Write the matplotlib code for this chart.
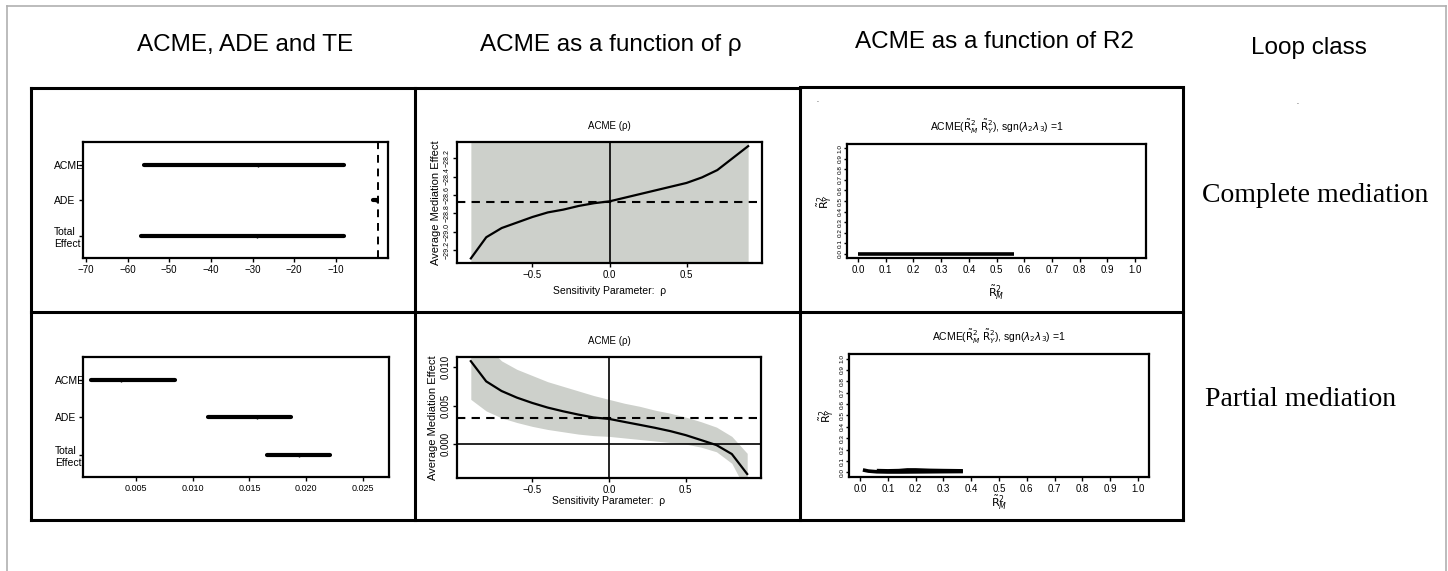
"""Mediation analysis summary figure: ACME/ADE/TE, sensitivity to rho and to R2."""

import matplotlib
matplotlib.use("Agg")
import matplotlib.pyplot as plt
from matplotlib.lines import Line2D

plt.rcParams["font.family"] = ["Liberation Sans", "DejaVu Sans"]
plt.rcParams["mathtext.fontset"] = "dejavusans"

# ---- data -----------------------------------------------------------------
effects = ["ACME", "ADE", "Total\nEffect"]
effect_pos = [3, 2, 1]

complete_est = [-28.7, -0.5, -29.0]
complete_lo = [-56.1, -1.1, -56.8]
complete_hi = [-8.1, -0.2, -8.1]

partial_est = [0.0037, 0.0157, 0.0194]
partial_lo = [0.0010, 0.0113, 0.0165]
partial_hi = [0.0084, 0.0187, 0.0221]

rho = [-0.9, -0.8, -0.7, -0.6, -0.5, -0.4, -0.3, -0.2, -0.1, 0.0,
       0.1, 0.2, 0.3, 0.4, 0.5, 0.6, 0.7, 0.8, 0.9]

complete_acme = [-29.29, -29.06, -28.96, -28.90, -28.84, -28.79, -28.76, -28.72, -28.69, -28.67,
                 -28.63, -28.59, -28.55, -28.51, -28.47, -28.41, -28.33, -28.20, -28.07]
complete_ci_lo = [-30.6, -30.4, -30.3, -30.2, -30.2, -30.1, -30.1, -30.1, -30.0, -30.0,
                  -30.0, -29.9, -29.9, -29.9, -29.8, -29.8, -29.7, -29.6, -29.4]
complete_ci_hi = [-27.9, -27.7, -27.6, -27.6, -27.5, -27.5, -27.4, -27.4, -27.4, -27.3,
                  -27.3, -27.3, -27.2, -27.2, -27.1, -27.1, -27.0, -26.8, -26.7]
complete_acme_est = -28.68

partial_acme = [0.01076, 0.00814, 0.00689, 0.00603, 0.00534, 0.00474, 0.00426, 0.00383, 0.00345, 0.00327,
                0.00288, 0.00250, 0.00211, 0.00168, 0.00116, 0.00052, -0.00013, -0.00129, -0.00388]
partial_ci_lo = [0.0058, 0.0043, 0.0034, 0.0028, 0.0023, 0.0019, 0.0016, 0.0013, 0.0011, 0.0010,
                 0.0008, 0.0006, 0.0004, 0.0002, 0.0000, -0.0004, -0.0010, -0.0025, -0.0063]
partial_ci_hi = [0.0165, 0.0128, 0.0108, 0.0097, 0.0089, 0.0081, 0.0075, 0.0069, 0.0063, 0.0058,
                 0.0053, 0.0049, 0.0044, 0.0040, 0.0035, 0.0029, 0.0022, 0.0010, -0.0012]
partial_acme_est = 0.0034

# contour of ACME = 0 over (R2_M, R2_Y)
complete_r2m = [0.0, 0.2, 0.4, 0.565]
complete_r2y = [0.0, 0.0, 0.0, 0.0]
partial_r2m_a = [0.01, 0.03, 0.06, 0.10, 0.15, 0.20, 0.25, 0.30, 0.37]
partial_r2y_a = [0.022, 0.012, 0.006, 0.004, 0.004, 0.005, 0.006, 0.007, 0.008]
partial_r2m_b = [0.06, 0.10, 0.14, 0.17, 0.20, 0.25, 0.30, 0.37]
partial_r2y_b = [0.016, 0.014, 0.016, 0.022, 0.022, 0.018, 0.016, 0.014]

col_titles = ["ACME, ADE and TE", "ACME as a function of ρ", "ACME as a function of R2", "Loop class"]
row_classes = ["Complete mediation", "Partial mediation"]

W, H = 1448, 571
fig = plt.figure(figsize=(W / 100, H / 100), dpi=100)


def px_axes(left, top, right, bottom):
    return fig.add_axes([left / W, 1 - bottom / H, (right - left) / W, (bottom - top) / H])


def r_style(ax, lw=1.6):
    for s in ax.spines.values():
        s.set_linewidth(lw)
    ax.tick_params(direction="out", length=3, width=1, labelsize=7, pad=2)


def effects_panel(ax, est, lo, hi, xlim, ylim, xticks, xticklabels, zero_line):
    r_style(ax)
    for p, e, a, b in zip(effect_pos, est, lo, hi):
        ax.plot([a, b], [p, p], color="black", lw=3, solid_capstyle="round")
        ax.plot([e], [p], marker="|", color="black", ms=3, mew=1)
    if zero_line:
        ax.axvline(0, color="black", ls=(0, (4, 3)), lw=1.4)
    ax.set_xlim(*xlim)
    ax.set_ylim(*ylim)
    ax.set_xticks(xticks)
    ax.set_xticklabels(xticklabels)
    ax.set_yticks(effect_pos)
    ax.set_yticklabels(effects, fontsize=7.5, linespacing=1.3)
    for lbl in ax.get_yticklabels():
        lbl.set_horizontalalignment("left")


def rho_panel(ax, acme, lo, hi, est, ylim, yticks, yticklabels, ylab_size, zero_h):
    r_style(ax)
    ax.fill_between(rho, lo, hi, color="#cdd0cb", lw=0)
    ax.plot(rho, acme, color="black", lw=1.6)
    ax.axhline(est, color="black", ls=(0, (4, 3)), lw=1.5)
    ax.axvline(0, color="black", lw=1.2)
    if zero_h:
        ax.axhline(0, color="black", lw=1.2)
    ax.set_xlim(-0.99, 0.99)
    ax.set_ylim(*ylim)
    ax.set_xticks([-0.5, 0.0, 0.5])
    ax.set_xticklabels(["−0.5", "0.0", "0.5"])
    ax.set_yticks(yticks)
    ax.set_yticklabels(yticklabels, rotation=90, va="center")
    ax.tick_params(axis="y", labelsize=ylab_size, pad=1.5)
    ax.set_title("ACME (ρ)", fontsize=7, pad=9)
    ax.set_xlabel("Sensitivity Parameter:  ρ", fontsize=7.5, labelpad=4)
    ax.set_ylabel("Average Mediation Effect", fontsize=8, labelpad=2)


def r2_panel(ax, lines, ytick_size):
    r_style(ax)
    for xs, ys in lines:
        ax.plot(xs, ys, color="black", lw=2.6, solid_capstyle="butt")
    ax.set_xlim(-0.04, 1.04)
    ax.set_ylim(-0.04, 1.04)
    ticks = [i / 10 for i in range(11)]
    ax.set_xticks(ticks)
    ax.set_xticklabels([f"{t:.1f}" for t in ticks])
    ax.set_yticks(ticks)
    ax.set_yticklabels([f"{t:.1f}" for t in ticks], rotation=90, va="center")
    ax.tick_params(axis="y", labelsize=ytick_size, length=2, pad=1)
    ax.set_title(r"ACME($\tilde{\mathrm{R}}^2_M$ $\tilde{\mathrm{R}}^2_Y$), sgn($\lambda_2\lambda_3$) =1",
                 fontsize=7.5, pad=9)
    ax.set_ylabel(r"$\tilde{\mathrm{R}}^2_Y$", fontsize=8, labelpad=3)


# top row: complete mediation
ax = px_axes(83, 142, 388, 258)
effects_panel(ax, complete_est, complete_lo, complete_hi, (-70.7, 2.5), (0.37, 3.65),
              [-70, -60, -50, -40, -30, -20, -10],
              ["−70", "−60", "−50", "−40", "−30", "−20", "−10"], True)
ax.tick_params(axis="y", pad=18)

ax = px_axes(457, 142, 762, 263)
rho_panel(ax, complete_acme, complete_ci_lo, complete_ci_hi, complete_acme_est, (-29.34, -28.025),
          [-29.2, -29.0, -28.8, -28.6, -28.4, -28.2],
          ["−29.2", "−29.0", "−28.8", "−28.6", "−28.4", "−28.2"], 5.0, False)

ax = px_axes(847, 144, 1146, 258)
r2_panel(ax, [(complete_r2m, complete_r2y)], 4.6)
ax.set_xlabel(r"$\tilde{\mathrm{R}}^2_M$", fontsize=8, labelpad=6)

# bottom row: partial mediation
ax = px_axes(83, 357, 389, 477)
effects_panel(ax, partial_est, partial_lo, partial_hi, (0.00032, 0.0273), (0.41, 3.61),
              [0.005, 0.010, 0.015, 0.020, 0.025],
              ["0.005", "0.010", "0.015", "0.020", "0.025"], False)
ax.tick_params(axis="y", pad=17)
ax.tick_params(axis="x", labelsize=6.5)

ax = px_axes(457, 357, 761, 478)
rho_panel(ax, partial_acme, partial_ci_lo, partial_ci_hi, partial_acme_est, (-0.0044, 0.0113),
          [0.0, 0.005, 0.010], ["0.000", "0.005", "0.010"], 7, True)
ax.xaxis.labelpad = 1

ax = px_axes(849, 354, 1149, 477)
r2_panel(ax, [(partial_r2m_a, partial_r2y_a), (partial_r2m_b, partial_r2y_b)], 4.6)
ax.set_xlabel(r"$\tilde{\mathrm{R}}^2_M$", fontsize=8, labelpad=0)

# ---- frame grid, headers and row labels ------------------------------------
ov = fig.add_axes([0, 0, 1, 1], zorder=10)
ov.set_xlim(0, W)
ov.set_ylim(H, 0)
ov.axis("off")

grey = "#b0b0b0"
ov.add_line(Line2D([7, 1446], [6, 6], color=grey, lw=1.2))
ov.add_line(Line2D([7, 7], [6, H], color=grey, lw=1.2))
ov.add_line(Line2D([1446, 1446], [6, H], color=grey, lw=1.2))

frame = dict(color="black", lw=2.2, solid_capstyle="projecting")
ov.add_line(Line2D([31, 800], [88, 88], **frame))
ov.add_line(Line2D([800, 1183], [87, 87], **frame))
ov.add_line(Line2D([31, 1183], [312, 312], **frame))
ov.add_line(Line2D([31, 1183], [520, 520], **frame))
for x in [31, 415, 800, 1183]:
    ov.add_line(Line2D([x, x], [88, 520], **frame))

for x, y, t in zip([245, 611, 994, 1309], [45, 45, 42, 48], col_titles):
    ov.text(x, y, t, ha="center", va="center", fontsize=17.5)

for x, y, t in zip([1315, 1301], [195, 400], row_classes):
    ov.text(x, y, t, ha="center", va="center", fontsize=20, family="Liberation Serif")

# stray marks present in the original figure
ov.text(817, 100, ".", ha="center", va="center", fontsize=5)
ov.text(1297, 103, ".", ha="center", va="center", fontsize=5)

fig.savefig("out.png", dpi=100)
